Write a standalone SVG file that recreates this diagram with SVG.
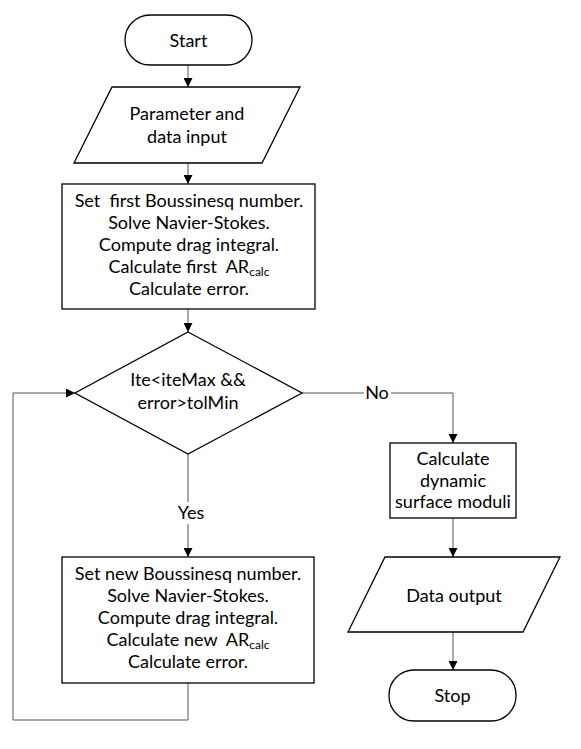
<svg xmlns="http://www.w3.org/2000/svg" width="581" height="749" viewBox="0 0 581 749">
<style>
.shape{fill:#fff;stroke:#000;stroke-width:1.3}
.conn{fill:none;stroke:#555;stroke-width:1}
text{font-family:Lato,"Open Sans","Liberation Sans",sans-serif;font-size:18px;fill:#000;text-anchor:middle;white-space:pre}
.sub{font-size:12px}
.lbl{fill:#fff;stroke:none}
</style>
<defs>
<marker id="arr" markerUnits="userSpaceOnUse" markerWidth="9" markerHeight="9" viewBox="0 0 10 10" refX="10" refY="5" orient="auto">
<path d="M0,0 L10,5 L0,10 z" fill="#000"/>
</marker>
</defs>
<g id="connectors">
<line class="conn" x1="188" y1="65" x2="188" y2="87" marker-end="url(#arr)"/>
<line class="conn" x1="188" y1="163" x2="188" y2="184" marker-end="url(#arr)"/>
<line class="conn" x1="188" y1="309" x2="188" y2="332" marker-end="url(#arr)"/>
<line class="conn" x1="188" y1="454" x2="188" y2="557" marker-end="url(#arr)"/>
<polyline class="conn" points="188,683 188,720 13,720 13,393 75,393" marker-end="url(#arr)"/>
<polyline class="conn" points="302,393 453,393 453,443" marker-end="url(#arr)"/>
<line class="conn" x1="453" y1="518" x2="453" y2="557" marker-end="url(#arr)"/>
<line class="conn" x1="453" y1="632" x2="453" y2="670" marker-end="url(#arr)"/>
<rect class="lbl" x="176" y="502" width="32" height="22"/>
<text x="191" y="519">Yes</text>
<rect class="lbl" x="364" y="383" width="27" height="20"/>
<text x="377" y="399">No</text>
</g>
<g id="start">
<rect class="shape" x="125" y="15" width="127" height="50" rx="25"/>
<text x="188.5" y="47">Start</text>
</g>
<g id="input">
<polygon class="shape" points="112,87 300,87 262,163 74,163"/>
<text x="187" y="120">Parameter and</text>
<text x="187" y="143">data input</text>
</g>
<g id="init">
<rect class="shape" x="62" y="184" width="253" height="125"/>
<text x="189" y="206.5">Set  first Boussinesq number.</text>
<text x="189" y="228.5">Solve Navier-Stokes.</text>
<text x="189" y="250.5">Compute drag integral.</text>
<text x="189" y="272.5">Calculate first  AR<tspan class="sub" dy="3">calc</tspan></text>
<text x="189" y="294.5">Calculate error.</text>
</g>
<g id="decision">
<polygon class="shape" points="188,332 302,393 188,454 75,393"/>
<text x="188" y="386">Ite&lt;iteMax &amp;&amp;</text>
<text x="188" y="409">error&gt;tolMin</text>
</g>
<g id="iterate">
<rect class="shape" x="62" y="557" width="252" height="126"/>
<text x="188" y="580">Set new Boussinesq number.</text>
<text x="188" y="602">Solve Navier-Stokes.</text>
<text x="188" y="624">Compute drag integral.</text>
<text x="188" y="646">Calculate new  AR<tspan class="sub" dy="3">calc</tspan></text>
<text x="188" y="668">Calculate error.</text>
</g>
<g id="moduli">
<rect class="shape" x="390" y="443" width="126" height="75"/>
<text x="453" y="465">Calculate</text>
<text x="453" y="487">dynamic</text>
<text x="453" y="508">surface moduli</text>
</g>
<g id="output">
<polygon class="shape" points="385,557 560,557 523,632 348,632"/>
<text x="454" y="602">Data output</text>
</g>
<g id="stop">
<rect class="shape" x="389" y="670" width="127" height="51" rx="25"/>
<text x="452.5" y="702">Stop</text>
</g>
</svg>
